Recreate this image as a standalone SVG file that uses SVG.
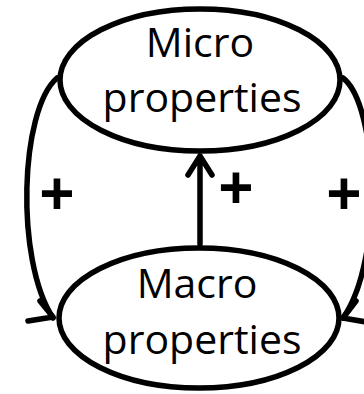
<svg xmlns="http://www.w3.org/2000/svg" width="364" height="394" viewBox="0 0 364 394">
<style>
.node ellipse{fill:#fff;stroke:#000;stroke-width:5.5}
.lbl{font-family:"Open Sans","Liberation Sans",sans-serif;font-size:41px;fill:#000;text-anchor:middle}
.plus{font-family:"Open Sans","Liberation Sans",sans-serif;font-weight:bold;font-size:62px;fill:#000;text-anchor:middle}
.conn path{fill:none;stroke:#000;stroke-width:5.5;stroke-linecap:round;stroke-linejoin:round}
</style>
<rect width="364" height="394" fill="#fff"/>
<g id="connectors" class="conn">
<path d="M57,78 C20,110 15,260 53,318"/>
<path d="M28,321 L53,317 M40,301 L53,317"/>
<path d="M343,78 C378,105 384,260 343,318"/>
<path d="M366,322 L343,318 M356,301 L343,318"/>
<path d="M200,244 L200,156 M188,175 L200,156 L212,175"/>
</g>
<g id="micro" class="node">
<ellipse cx="200" cy="80" rx="140" ry="71"/>
<text class="lbl" x="200" y="57">Micro</text>
<text class="lbl" x="202" y="112">properties</text>
</g>
<g id="macro" class="node">
<ellipse cx="199" cy="318" rx="140" ry="70"/>
<text class="lbl" x="197" y="298">Macro</text>
<text class="lbl" x="202" y="354">properties</text>
</g>
<g id="labels">
<text class="plus" x="57" y="216">+</text>
<text class="plus" x="236" y="210">+</text>
<text class="plus" x="344" y="216">+</text>
</g>
</svg>
